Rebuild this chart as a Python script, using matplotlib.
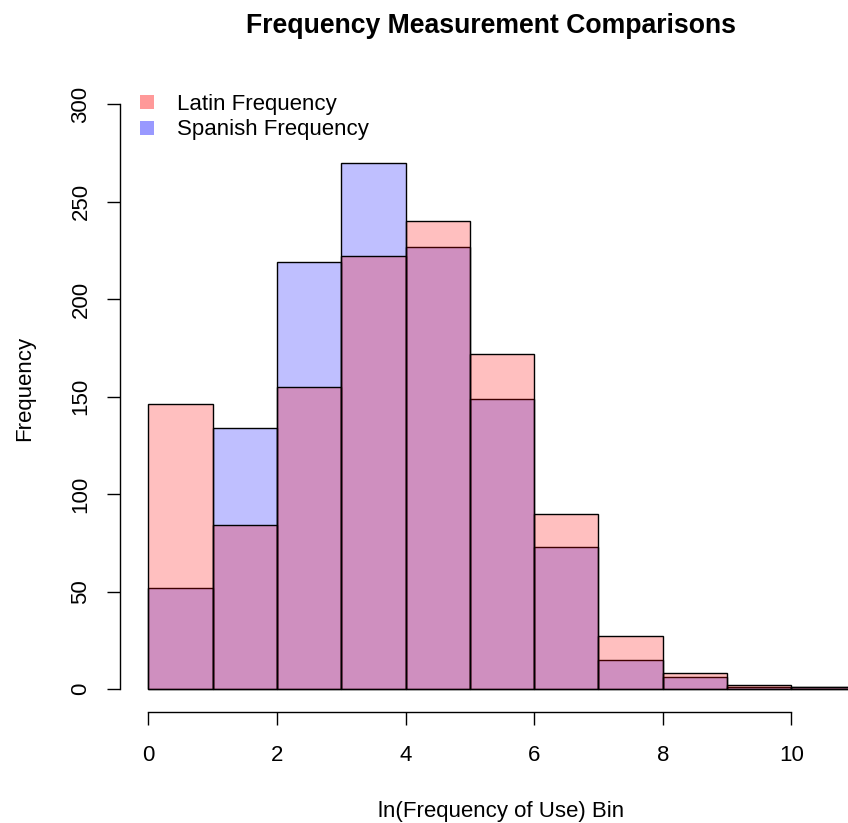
import matplotlib
matplotlib.use("Agg")
import matplotlib.pyplot as plt
from matplotlib.lines import Line2D

plt.rcParams['font.family'] = ['Liberation Sans', 'DejaVu Sans']

# histogram counts per unit bin of ln(frequency)
bin_edges = [0, 1, 2, 3, 4, 5, 6, 7, 8, 9, 10, 11]
latin = [146, 84, 155, 222, 240, 172, 90, 27, 8, 2, 1]
spanish = [52, 134, 219, 270, 227, 149, 73, 15, 6, 1, 1]
x_ticks = [0, 2, 4, 6, 8, 10]
y_ticks = [0, 50, 100, 150, 200, 250, 300]

W, H = 848, 823
fig = plt.figure(figsize=(W / 100, H / 100), dpi=100)

# plot region in pixels (axes runs past the right edge, like the original crop)
left, right, top, bottom = 120, 884, 81, 712.4
ax = fig.add_axes([left / W, 1 - bottom / H, (right - left) / W, (bottom - top) / H])

blue = (0, 0, 1, 0.25)
red = (1, 0, 0, 0.25)
starts = bin_edges[:-1]
ax.bar(starts, spanish, width=1, align='edge', color=blue, edgecolor='black', linewidth=1.0)
ax.bar(starts, latin, width=1, align='edge', color=red, edgecolor='black', linewidth=1.0)

ax.set_xlim(-0.44, 11.44)
ax.set_ylim(-12, 312)

for s in ('top', 'right'):
    ax.spines[s].set_visible(False)
ax.spines['left'].set_bounds(0, 300)
ax.spines['bottom'].set_bounds(0, 10)
for s in ('left', 'bottom'):
    ax.spines[s].set_linewidth(1.0)

fs = 16
ax.set_xticks(x_ticks)
ax.set_yticks(y_ticks)
ax.set_yticklabels([str(v) for v in y_ticks], rotation=90, va='center')
ax.tick_params(axis='both', direction='out', length=9.6, width=1.0, labelsize=fs)
ax.tick_params(axis='x', pad=14)
ax.tick_params(axis='y', pad=11)

fig.text(491 / W, 1 - 26 / H, 'Frequency Measurement Comparisons',
         ha='center', va='center', fontsize=19.2, fontweight='bold')
fig.text(501 / W, 1 - 811 / H, 'ln(Frequency of Use) Bin',
         ha='center', va='center', fontsize=fs)
fig.text(25 / W, 1 - 388 / H, 'Frequency', rotation=90,
         ha='center', va='center', fontsize=fs)

handles = [
    Line2D([], [], marker='s', linestyle='none', markersize=10,
           color=(1, 0, 0, 0.4), markeredgewidth=0),
    Line2D([], [], marker='s', linestyle='none', markersize=10,
           color=(0, 0, 1, 0.4), markeredgewidth=0),
]
ax.legend(handles, ['Latin Frequency', 'Spanish Frequency'],
          loc='upper left', bbox_to_anchor=(140 / W, 1 - 94 / H),
          bbox_transform=fig.transFigure, frameon=False, fontsize=fs,
          borderpad=0, borderaxespad=0, handlelength=0.6, handletextpad=1.05,
          labelspacing=0.2)

fig.savefig('out.png', dpi=100)
